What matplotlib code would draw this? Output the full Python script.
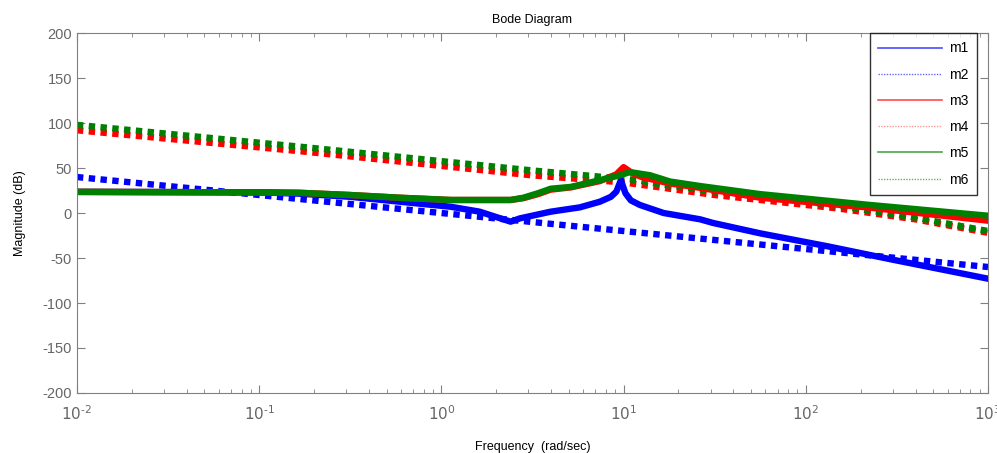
import matplotlib
matplotlib.use('Agg')
import matplotlib.pyplot as plt
import numpy as np
from matplotlib.lines import Line2D
from matplotlib.ticker import FuncFormatter

plt.rcParams['font.family'] = ['Liberation Sans', 'DejaVu Sans']
plt.rcParams['axes.unicode_minus'] = False

# log10(frequency) and magnitude (dB)
lw_m1 = [-2.0, -1.0, -0.78, -0.5, -0.23, 0.05, 0.21, 0.38, 0.43, 0.6, 0.76, 0.87, 0.93, 0.96, 0.985, 1.01, 1.04, 1.09, 1.22, 1.42, 1.49, 1.75, 2.12, 2.48, 3.0]
db_m1 = [23.5, 23.0, 21.5, 18.0, 12.6, 7.0, 1.5, -9.6, -6.0, 1.5, 6.3, 12.6, 18.0, 23.7, 36.5, 22.0, 14.0, 8.9, 0.0, -7.0, -11.0, -22.6, -37.0, -52.0, -73.0]

lw_m2 = [-2.0, 3.0]
db_m2 = [40.0, -60.0]

lw_m3 = [-2.0, -1.0, -0.78, -0.5, -0.23, 0.05, 0.38, 0.45, 0.53, 0.6, 0.71, 0.87, 0.96, 1.0, 1.05, 1.1, 1.25, 1.42, 1.75, 2.35, 3.0]
db_m3 = [23.5, 23.0, 22.5, 20.0, 17.0, 14.5, 14.5, 16.5, 21.0, 26.0, 28.5, 35.5, 43.0, 51.0, 44.0, 40.0, 33.0, 28.0, 17.0, 6.0, -8.5]

lw_m4 = [-2.0, -0.74, 0.49, 1.0, 1.2, 1.5, 2.18, 2.6, 3.0]
db_m4 = [92.0, 68.0, 42.0, 34.0, 28.5, 20.0, 5.0, -7.0, -22.0]

lw_m5 = [-2.0, -1.0, -0.78, -0.5, -0.23, 0.05, 0.38, 0.45, 0.53, 0.6, 0.71, 0.87, 0.98, 1.035, 1.145, 1.255, 1.42, 1.75, 2.35, 3.0]
db_m5 = [23.5, 23.0, 22.5, 20.0, 17.0, 14.5, 14.5, 17.0, 22.0, 27.0, 29.0, 36.5, 42.0, 45.5, 42.0, 35.0, 30.0, 21.0, 9.0, -3.0]

lw_m6 = [-2.0, -0.74, 0.49, 0.87, 1.07, 1.2, 1.5, 2.18, 2.6, 3.0]
db_m6 = [98.0, 73.0, 47.5, 40.4, 36.7, 32.0, 24.0, 8.0, -5.0, -20.0]

fig = plt.figure(figsize=(9.97, 4.53), dpi=100)
ax = fig.add_axes([0.0772, 0.1325, 0.9138, 0.7945])

dot = (0, (1, 0.85))
thick = 4.6
ax.plot(10 ** np.array(lw_m2), db_m2, color='#0000ff', lw=thick, ls=dot, dash_capstyle='butt')
ax.plot(10 ** np.array(lw_m4), db_m4, color='#ff0000', lw=thick, ls=dot, dash_capstyle='butt')
ax.plot(10 ** np.array(lw_m6), db_m6, color='#008000', lw=thick, ls=dot, dash_capstyle='butt')
ax.plot(10 ** np.array(lw_m1), db_m1, color='#0000ff', lw=thick, solid_joinstyle='round')
ax.plot(10 ** np.array(lw_m3), db_m3, color='#ff0000', lw=thick, solid_joinstyle='round')
ax.plot(10 ** np.array(lw_m5), db_m5, color='#008000', lw=thick, solid_joinstyle='round')

ax.set_xscale('log')
ax.set_xlim(1e-2, 1e3)
ax.set_ylim(-200, 200)
ax.set_yticks(np.arange(-200, 201, 50))
ax.xaxis.set_major_formatter(FuncFormatter(
    lambda v, p: r'$10^{\text{%d}}$' % int(round(np.log10(v)))))

for s in ax.spines.values():
    s.set_color('#808080')
ax.tick_params(axis='both', which='major', direction='in', length=6, color='#808080',
               labelcolor='#666666', labelsize=10.5, top=True, right=True)
ax.tick_params(axis='x', which='minor', direction='in', length=3, color='#808080',
               top=True, bottom=True)
ax.tick_params(axis='x', which='major', pad=8, labelsize=11)

ax.set_title('Bode Diagram', fontsize=9, pad=7)
ax.set_xlabel('Frequency  (rad/sec)', fontsize=9, labelpad=13)
ax.set_ylabel('Magnitude (dB)', fontsize=9, labelpad=12)

handles = [
    Line2D([], [], color='#0000ff', lw=1.2, alpha=0.7),
    Line2D([], [], color='#0000ff', lw=1.0, ls=(0, (1, 1)), alpha=0.6),
    Line2D([], [], color='#ff0000', lw=1.2, alpha=0.7),
    Line2D([], [], color='#ff0000', lw=1.0, ls=(0, (1, 1)), alpha=0.4),
    Line2D([], [], color='#008000', lw=1.2, alpha=0.7),
    Line2D([], [], color='#008000', lw=1.0, ls=(0, (1, 1)), alpha=0.6),
]
leg = ax.legend(handles, ['m1', 'm2', 'm3', 'm4', 'm5', 'm6'], loc='upper right',
                bbox_to_anchor=(0.988, 1.0), fontsize=10, frameon=True, fancybox=False,
                handlelength=4.6, handletextpad=0.5, labelspacing=0.88,
                borderpad=0.6, borderaxespad=0)
leg.get_frame().set_edgecolor('black')
leg.get_frame().set_linewidth(1.0)

fig.savefig('out.png', dpi=100)
